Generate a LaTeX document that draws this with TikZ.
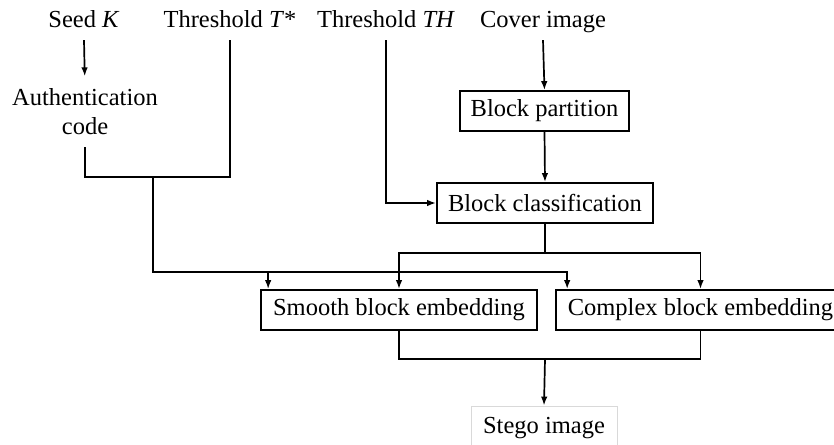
\documentclass[tikz,border=0pt]{standalone}
\usepackage{fontspec}
\setmainfont{Liberation Serif}
\usetikzlibrary{arrows.meta}
\begin{document}
\begin{tikzpicture}[x=1pt,y=-1pt,
  lbl/.style={inner sep=0pt, font=\fontsize{24.5}{29}\selectfont},
  toplbl/.style={lbl, text height=17pt, text depth=6pt, inner ysep=6pt, anchor=base},
  box/.style={draw, line width=1.7pt, font=\fontsize{24.5}{29}\selectfont, minimum height=40pt, inner sep=0pt},
  ln/.style={line width=1.7pt},
  arr/.style={ln, -{Latex[length=9pt,width=6.5pt]}}]
\useasboundingbox (0,0) rectangle (834,444);
\fill[white] (0,0) rectangle (834,444);
% top labels
\node[toplbl] (seed) at (84,28) {Seed \textit{K}};
\node[toplbl] (tstar) at (230,28) {Threshold \textit{T}*};
\node[toplbl] (th) at (386,28) {Threshold \textit{TH}};
\node[toplbl] (cover) at (543,28) {Cover image};
\node[lbl, align=center, anchor=south] (auth) at (85,135) {Authentication\\code};
% boxes
\node[box, minimum width=169pt] (part) at (544.5,111) {Block partition};
\node[box, minimum width=216pt] (class) at (545,203) {Block classification};
\node[box, minimum width=276pt] (smooth) at (399,310) {Smooth block embedding};
\node[box, minimum width=289pt] (complex) at (700.5,310) {Complex block embedding};
\node[draw=black!15, line width=0.8pt, font=\fontsize{24.5}{29}\selectfont, minimum width=146pt, minimum height=44pt, inner sep=0pt] (stego) at (544,428) {Stego image};
% junctions
\coordinate (j1) at (153,177);
\coordinate (j2) at (153,272);
\coordinate (j3) at (545,253);
\coordinate (j4) at (545,359);
\coordinate (sin) at ([xshift=8pt]smooth.north west);
\coordinate (cin) at ([xshift=12pt]complex.north west);
% connectors
\draw[arr, shorten >=12pt] (seed.south) -- (auth.north);
\draw[ln, shorten <=12pt] (auth.south) |- (j1);
\draw[ln] (j1) -| (tstar.south);
\draw[arr] (j1) -- (j2) -| (cin);
\draw[arr] (sin |- j2) -- (sin);
\draw[arr] (th.south) |- (class.west);
\draw[arr] (cover.south) -- (part.north);
\draw[arr] (part.south) -- (class.north);
\draw[ln] (class.south) -- (j3);
\draw[arr] (j3) -| (smooth.north);
\draw[arr] (j3) -| (complex.north);
\draw[ln] (smooth.south) |- (j4) -| (complex.south);
\draw[arr] (j4) -- (stego.north);
\end{tikzpicture}
\end{document}
